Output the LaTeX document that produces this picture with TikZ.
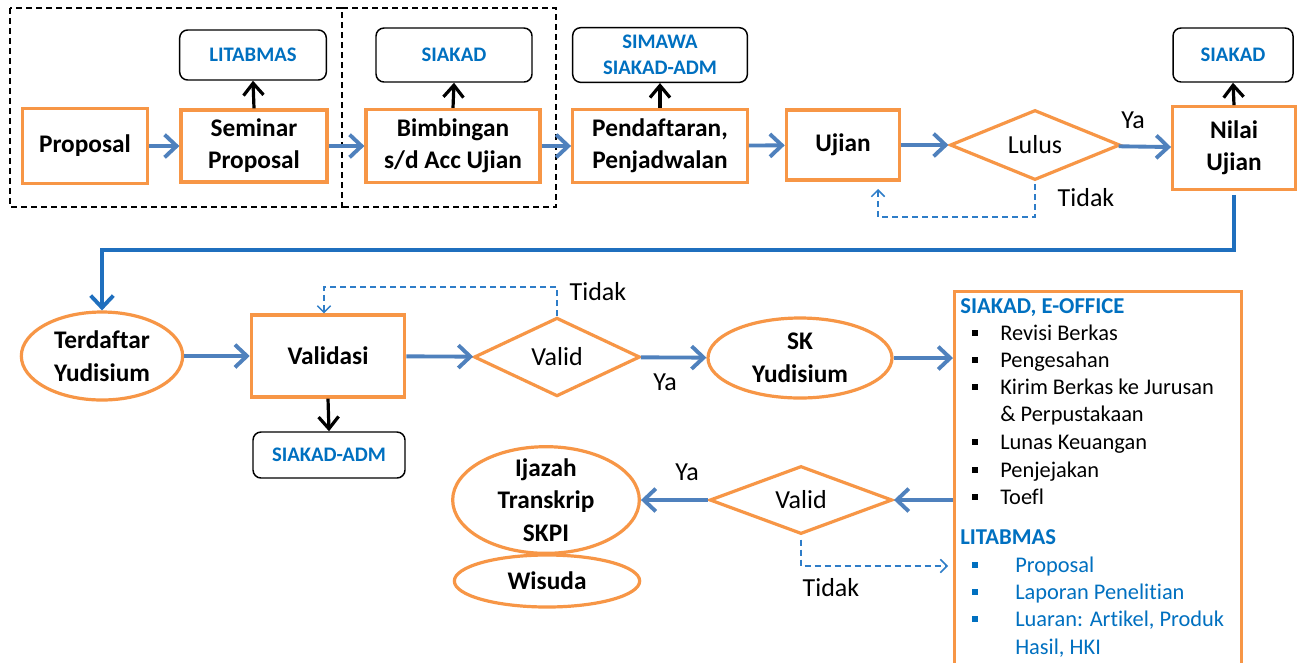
\documentclass[tikz,border=0pt]{standalone}
\usepackage{fontspec}
\setmainfont{Carlito}[Ligatures=NoCommon]
\usetikzlibrary{shapes.geometric,arrows.meta}
\definecolor{orng}{RGB}{247,150,70}
\definecolor{arblue}{RGB}{79,129,189}
\definecolor{tblue}{RGB}{0,112,192}
\definecolor{dblue}{RGB}{46,125,200}
\definecolor{nblue}{RGB}{31,111,190}
\begin{document}
\begin{tikzpicture}[x=0.75pt,y=-0.75pt,
  proc/.style={draw=orng, line width=2.4pt, fill=white, align=center, font=\bfseries\fontsize{19}{24}\selectfont, inner sep=0pt},
  ell/.style={ellipse, draw=orng, line width=2.4pt, fill=white, align=center, font=\bfseries\fontsize{19}{24.5}\selectfont, inner sep=-8pt},
  dec/.style={diamond, draw=orng, line width=2.4pt, fill=white, inner sep=0pt, font=\fontsize{19.5}{24}\selectfont},
  sys/.style={draw=black, line width=1.1pt, rounded corners=6pt, fill=white, align=center, font=\bfseries\fontsize{15.5}{19.5}\selectfont, text=tblue, inner sep=0pt},
  flow/.style={draw=arblue, line width=2.9pt, -{Straight Barb[length=9pt,width=17pt]}},
  nflow/.style={draw=nblue, line width=2.9pt, -{Straight Barb[length=9pt,width=17pt]}},
  up/.style={draw=black, line width=2.4pt, -{Straight Barb[length=9pt,width=15pt]}},
  back/.style={draw=dblue, line width=1.1pt, dash pattern=on 4.5pt off 3pt, -{Straight Barb[length=5pt,width=10pt,line width=1.1pt]}},
  lbl/.style={font=\fontsize{19.5}{24}\selectfont, inner sep=0pt},
  itm/.style={anchor=base west, inner sep=0pt, font=\fontsize{16.8}{20}\selectfont},
  bul/.style={fill=black, minimum size=4.5pt, inner sep=0pt}
]
\useasboundingbox[fill=white] (0,0) rectangle (1301,662);

% dashed grouping frames
\draw[black, line width=1.1pt, dash pattern=on 4.5pt off 3pt] (10,8) rectangle (342,207);
\draw[black, line width=1.1pt, dash pattern=on 4.5pt off 3pt] (342,8) -- (556,8) -- (556,207) -- (342,207);

% top row
\node[proc, minimum width=93.75pt, minimum height=56.25pt] (proposal) at (85,146) {Proposal};
\node[proc, minimum width=109.5pt, minimum height=54pt] (seminar) at (254,146) {Seminar\\Proposal};
\node[sys, minimum width=110pt, minimum height=37.5pt] (lit) at (253,55) {LITABMAS};
\node[proc, minimum width=130.5pt, minimum height=54.75pt] (bimb) at (453,146) {Bimbingan\\s/d Acc Ujian};
\node[sys, minimum width=117pt, minimum height=40.5pt] (siak1) at (454,55) {SIAKAD};
\node[proc, minimum width=131pt, minimum height=54.75pt] (pend) at (660,146) {Pendaftaran,\\Penjadwalan};
\node[sys, minimum width=131pt, minimum height=41pt] (simawa) at (660,55) {SIMAWA\\SIAKAD-ADM};
\node[proc, minimum width=85pt, minimum height=52.5pt] (ujian) at (843,145) {Ujian};
\node[dec, minimum width=127.5pt, minimum height=52.5pt, aspect=2.4] (lulus) at (1035,145) {Lulus};
\node[proc, minimum width=92pt, minimum height=62pt] (nilai) at (1234,148) {Nilai\\Ujian};
\node[sys, minimum width=90pt, minimum height=40.5pt] (siak2) at (1233,55) {SIAKAD};

\draw[flow] (proposal) -- (seminar);
\draw[flow] (seminar) -- (bimb);
\draw[flow] (bimb) -- (pend);
\draw[flow] (pend) -- (ujian);
\draw[flow] (ujian) -- (lulus);
\draw[flow] (lulus) -- (nilai);
\draw[up] (seminar.north) -- (lit.south);
\draw[up] (bimb.north) -- (siak1.south);
\draw[up] (pend.north) -- (simawa.south);
\draw[up] (nilai.north) -- (siak2.south);

\coordinate (ujret) at (878,189);
\draw[back] ([yshift=-2pt]lulus.south) -- (lulus.south |- 0,217) -| (ujret);
\node[lbl] (ya1) at (1133,120) {Ya};
\node[lbl] (tidak1) at (1086,198) {Tidak};

% second row
\node[ell, minimum width=121pt, minimum height=66pt] (terd) at (102,356) {Terdaftar\\Yudisium};
\draw[nflow] ([yshift=-3pt]nilai.south) -- (nilai.south |- 0,250) -| (terd.north);

\node[proc, minimum width=115pt, minimum height=61.5pt] (valid) at (328,356) {Validasi};
\node[sys, minimum width=114pt, minimum height=34.5pt] (sadm) at (329,455) {SIAKAD-ADM};
\node[dec, minimum width=124.5pt, minimum height=59pt, aspect=2.1] (v1) at (557,357) {Valid};
\node[ell, minimum width=138pt, minimum height=60pt] (sk) at (800,358) {SK\\Yudisium};
\node[draw=orng, line width=2.4pt, anchor=north west, minimum width=215.25pt, minimum height=290pt, inner sep=0pt] (info) at (953,290) {};

\draw[flow] (terd) -- (valid);
\draw[flow] (valid) -- (v1);
\draw[flow] (v1) -- (sk);
\draw[flow] (sk.east) -- (sk.east -| info.west);
\draw[up] (valid.south) -- (sadm.north);
\draw[back] (v1.north) -- (v1.north |- 0,287) -| ([xshift=-3pt]valid.north);
\node[lbl] (tidak2) at (598,292) {Tidak};
\node[lbl] (ya2) at (665,382) {Ya};

% third row
\node[dec, minimum width=137pt, minimum height=51pt, aspect=2.7] (v2) at (801,500) {Valid};
\node[ell, minimum width=140pt, minimum height=80pt] (ijazah) at (546,500) {Ijazah\\Transkrip\\SKPI};
\node[ell, minimum width=139pt, minimum height=39pt] (wisuda) at (547,581) {Wisuda};
\draw[flow] (info.west |- v2.east) -- (v2.east);
\draw[flow] (v2.west) -- (ijazah.east);
\coordinate (inret) at (948,566);
\draw[back] ([yshift=-3pt]v2.south) -- (v2.south |- inret) -- (inret);
\node[lbl] (ya3) at (687,472) {Ya};
\node[lbl] (tidak3) at (831,588) {Tidak};

% info box content
\node[itm, text=tblue, font=\bfseries\fontsize{17}{20}\selectfont] (t1) at (960,313) {SIAKAD, E-OFFICE};
\foreach \yy/\tx in {333/Revisi Berkas, 360/Pengesahan, 387/Kirim Berkas ke Jurusan, 442/Lunas Keuangan, 470/Penjejakan, 497/Toefl}{
  \node[bul] at (975,\yy) {};
  \node[itm] at (1000,\yy+7) {\tx};
}
\node[itm] (perp) at (1000,414+7) {\& Perpustakaan};
\node[itm, text=tblue, font=\bfseries\fontsize{17}{20}\selectfont] (t2) at (960,544) {LITABMAS};
\foreach \yy/\tx in {565/Proposal, 592/Laporan Penelitian, 619/{Luaran: Artikel, Produk}}{
  \node[bul, fill=tblue] at (975,\yy) {};
  \node[itm, text=tblue] at (1015,\yy+7) {\tx};
}
\node[itm, text=tblue] (hki) at (1015,647+7) {Hasil, HKI};
\end{tikzpicture}
\end{document}
